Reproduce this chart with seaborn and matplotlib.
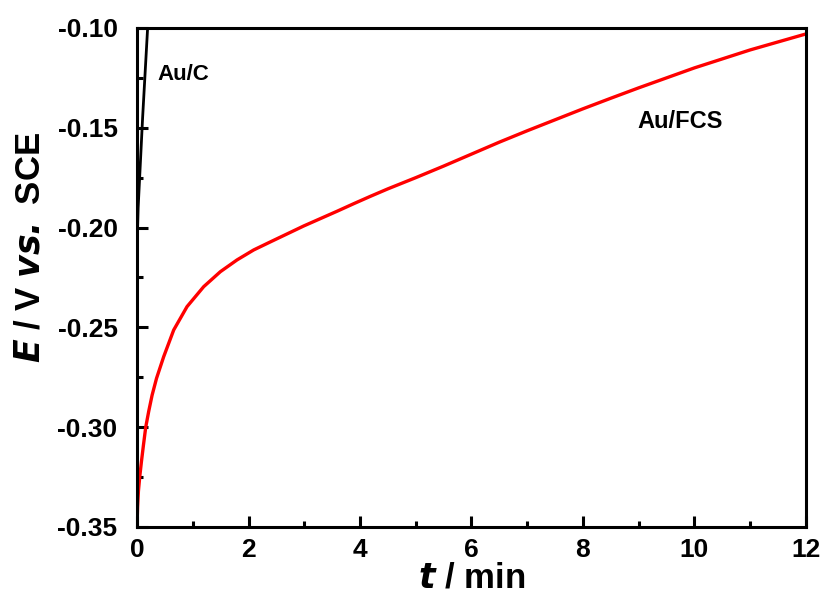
import matplotlib
matplotlib.use("Agg")
import matplotlib.pyplot as plt
import seaborn as sns
import pandas as pd
from matplotlib.ticker import MultipleLocator

sns.set_theme(style="ticks")
plt.rcParams['font.family'] = ['Liberation Sans', 'DejaVu Sans']
plt.rcParams['font.weight'] = 'bold'
plt.rcParams['text.color'] = 'black'
plt.rcParams['axes.labelcolor'] = 'black'

# Open-circuit potential transients
t_fcs = [0, 0.01, 0.025, 0.048, 0.08, 0.115, 0.156, 0.21, 0.27, 0.35, 0.478,
         0.658, 0.897, 1.196, 1.495, 1.794, 2.093, 2.39, 2.69, 2.99, 3.29, 3.59,
         3.89, 4.19, 4.5, 5.0, 5.5, 6.0, 6.5, 7.0, 7.5, 8.0, 8.5, 9.0, 9.5, 10.0,
         10.5, 11.0, 11.5, 12.0]
e_fcs = [-0.350, -0.340, -0.332, -0.325, -0.317, -0.309, -0.300, -0.292, -0.284,
         -0.2755, -0.2647, -0.2513, -0.2396, -0.2296, -0.2221, -0.2162, -0.2112,
         -0.2072, -0.2032, -0.1992, -0.1955, -0.1918, -0.1880, -0.1843, -0.1806,
         -0.1750, -0.1692, -0.1632, -0.1572, -0.1515, -0.1460, -0.1405, -0.1352,
         -0.1300, -0.1250, -0.1200, -0.1155, -0.1110, -0.1070, -0.1030]

t_c = [0, 0.005, 0.02, 0.1, 0.19, 0.25]
e_c = [-0.228, -0.205, -0.190, -0.145, -0.100, -0.070]

df_fcs = pd.DataFrame({"t": t_fcs, "E": e_fcs})
df_c = pd.DataFrame({"t": t_c, "E": e_c})

fig = plt.figure(figsize=(8.24, 5.94), dpi=100)
ax = fig.add_axes([0.1663, 0.1128, 0.8117, 0.8401])

sns.lineplot(data=df_c, x="t", y="E", color="black", lw=2.0, ax=ax, sort=False)
sns.lineplot(data=df_fcs, x="t", y="E", color="#ff0000", lw=2.4, ax=ax, sort=False)

ax.set_xlim(0, 12)
ax.set_ylim(-0.35, -0.10)
ax.xaxis.set_major_locator(MultipleLocator(2))
ax.xaxis.set_minor_locator(MultipleLocator(1))
ax.yaxis.set_minor_locator(MultipleLocator(0.025))
ax.set_yticks([-0.35, -0.30, -0.25, -0.20, -0.15, -0.10])
ax.set_yticklabels(["-0.35", "-0.30", "-0.25", "-0.20", "-0.15", "-0.10"])

for s in ax.spines.values():
    s.set_linewidth(2.2)
    s.set_color("black")

ax.tick_params(axis="both", which="major", direction="in", length=8, width=2.2,
               labelsize=19, top=False, right=False, colors="black")
ax.tick_params(axis="x", which="major", pad=8)
ax.tick_params(axis="y", which="major", pad=14)
ax.tick_params(axis="both", which="minor", direction="in", length=4.5, width=2.2,
               top=False, right=False, colors="black")
for lab in ax.get_xticklabels() + ax.get_yticklabels():
    lab.set_fontweight("bold")

ax.set_xlabel(r"$\bfit{t}$ / min", fontsize=25, fontweight="bold", color="black")
ax.xaxis.set_label_coords(0.5, -0.07)
ax.set_ylabel(r"$\bfit{E}$ / V $\bfit{vs.}$ SCE", fontsize=25, fontweight="bold",
              color="black")
ax.yaxis.set_label_coords(-0.136, 0.561)

ax.text(0.36, -0.1235, "Au/C", fontsize=16, fontweight="bold", va="center",
        ha="left", color="black")
ax.text(8.97, -0.147, "Au/FCS", fontsize=17, fontweight="bold", va="center",
        ha="left", color="black")

fig.savefig("out.png", dpi=100, facecolor="white")
